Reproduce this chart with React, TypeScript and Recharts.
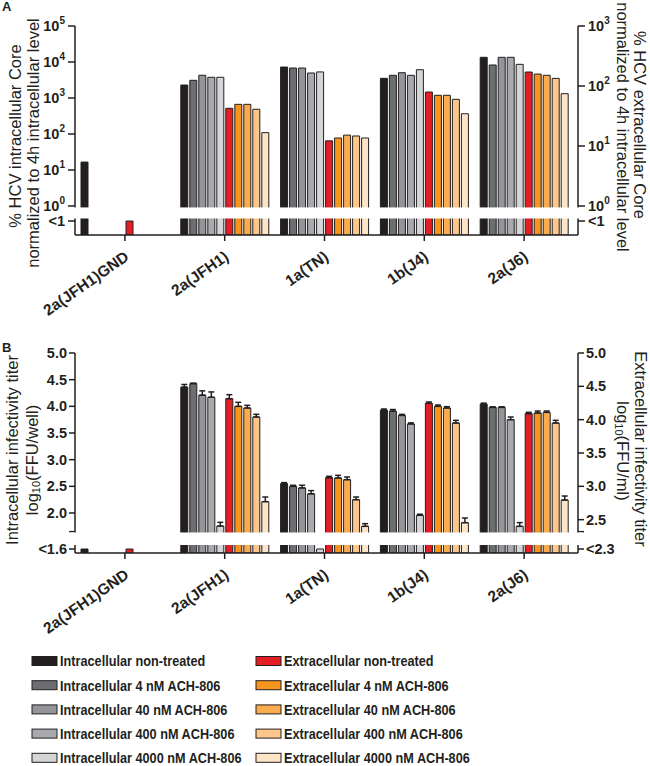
import React from 'react';
import { BarChart, Bar, XAxis, YAxis, ReferenceArea, ReferenceLine, ErrorBar } from 'recharts';

const FONT = '"Liberation Sans", Arial, Helvetica, sans-serif';
const INK = '#231f20';

const groups = ['2a(JFH1)GND', '2a(JFH1)', '1a(TN)', '1b(J4)', '2a(J6)'];

const intraNames = [
  'Intracellular non-treated',
  'Intracellular 4 nM ACH-806',
  'Intracellular 40 nM ACH-806',
  'Intracellular 400 nM ACH-806',
  'Intracellular 4000 nM ACH-806',
];
const extraNames = [
  'Extracellular non-treated',
  'Extracellular 4 nM ACH-806',
  'Extracellular 40 nM ACH-806',
  'Extracellular 400 nM ACH-806',
  'Extracellular 4000 nM ACH-806',
];
const intraColors = ['#231f20', '#6d6e71', '#939598', '#a8aaae', '#d4d5d7'];
const extraColors = ['#e31e25', '#f7941d', '#f9ab4e', '#fdc78c', '#fee4c6'];

// 'BLD' = below detection limit ("<1", "<1.6", "<2.3"); null = not measured
const BLD = 'BLD';
type V = number | string | null;

// Panel A: % HCV Core normalized to 4h intracellular level
const coreIntraNT: V[] = [16.6, 2290, 7240, 3520, 13500];
const coreIntra4: V[] = [null, 3100, 6800, 4270, 8260];
const coreIntra40: V[] = [null, 4280, 6800, 5040, 13500];
const coreIntra400: V[] = [null, 3760, 4950, 4270, 13500];
const coreIntra4000: V[] = [null, 3760, 5300, 6110, 8610];
const coreExtraNT: V[] = [BLD, 42.5, 12.2, 79.4, 171];
const coreExtra4: V[] = [null, 49.5, 13.6, 70, 158];
const coreExtra40: V[] = [null, 49.5, 15.2, 70, 151];
const coreExtra400: V[] = [null, 41, 14.7, 60, 134];
const coreExtra4000: V[] = [null, 16.7, 13.6, 34.5, 74.5];

// Panel B: infectivity titers, log10
const titerIntraNT: V[] = [BLD, 4.36, 2.55, 3.93, 4.04];
const titerIntra4: V[] = [null, 4.425, 2.5, 3.91, 3.98];
const titerIntra40: V[] = [null, 4.21, 2.47, 3.83, 3.98];
const titerIntra400: V[] = [null, 4.17, 2.36, 3.67, 3.75];
const titerIntra4000: V[] = [null, 1.755, BLD, 1.957, 1.75];
const titerExtraNT: V[] = [BLD, 4.315, 3.13, 4.245, 4.09];
const titerExtra4: V[] = [null, 4.2, 3.125, 4.2, 4.1];
const titerExtra40: V[] = [null, 4.175, 3.1, 4.175, 4.11];
const titerExtra400: V[] = [null, 4.04, 2.8, 3.95, 3.95];
const titerExtra4000: V[] = [null, 2.77, 2.4, 2.455, 2.795];

// SEM (upper whisker only)
const errIntraNT: (number | null)[] = [null, 0.05, 0.02, 0.02, 0.02];
const errIntra4: (number | null)[] = [null, 0.01, 0.02, 0.03, 0.01];
const errIntra40: (number | null)[] = [null, 0.08, 0.05, 0.02, 0.01];
const errIntra400: (number | null)[] = [null, 0.1, 0.06, 0.02, 0.05];
const errIntra4000: (number | null)[] = [null, 0.07, null, 0.02, 0.07];
const errExtraNT: (number | null)[] = [null, 0.06, 0.02, 0.02, 0.02];
const errExtra4: (number | null)[] = [null, 0.06, 0.04, 0.02, 0.03];
const errExtra40: (number | null)[] = [null, 0.04, 0.04, 0.02, 0.02];
const errExtra400: (number | null)[] = [null, 0.04, 0.04, 0.04, 0.04];
const errExtra4000: (number | null)[] = [null, 0.07, 0.04, 0.07, 0.06];

// Axis ticks
const aLeftTicks = [0, 1, 2, 3, 4, 5];
const aRightTicks = [0, 1, 2, 3];
const bLeftTicks = [2.0, 2.5, 3.0, 3.5, 4.0, 4.5, 5.0];
const bRightTicks = [2.5, 3.0, 3.5, 4.0, 4.5, 5.0];

// Broken-axis settings (axis units)
const A_L_DOMAIN: [number, number] = [-0.806, 5];
const A_L_LOD = -0.417;
const A_R_DOMAIN: [number, number] = [-0.483, 3];
const A_R_LOD = -0.25;
const A_BREAK: [number, number] = [-0.347, -0.04];

const B_L_DOMAIN: [number, number] = [1.25, 5];
const B_L_LOD = 1.325;
const B_L_SEGEND = 1.65;
const B_R_DOMAIN: [number, number] = [2.0, 5];
const B_R_LOD = 2.06;
const B_R_SEGEND = 2.32;
const B_BREAK: [number, number] = [1.4, 1.635];

const coreIntra = [coreIntraNT, coreIntra4, coreIntra40, coreIntra400, coreIntra4000];
const coreExtra = [coreExtraNT, coreExtra4, coreExtra40, coreExtra400, coreExtra4000];
const titerIntra = [titerIntraNT, titerIntra4, titerIntra40, titerIntra400, titerIntra4000];
const titerExtra = [titerExtraNT, titerExtra4, titerExtra40, titerExtra400, titerExtra4000];
const errIntra = [errIntraNT, errIntra4, errIntra40, errIntra400, errIntra4000];
const errExtra = [errExtraNT, errExtra4, errExtra40, errExtra400, errExtra4000];

const rowsA = groups.map((g, i) => {
  const r: any = { group: g };
  coreIntra.forEach((s, k) => (r['i' + k] = s[i]));
  coreExtra.forEach((s, k) => (r['e' + k] = s[i]));
  return r;
});
const rowsB = groups.map((g, i) => {
  const r: any = { group: g };
  titerIntra.forEach((s, k) => (r['i' + k] = s[i]));
  titerExtra.forEach((s, k) => (r['e' + k] = s[i]));
  errIntra.forEach((s, k) => (r['ie' + k] = s[i]));
  errExtra.forEach((s, k) => (r['ee' + k] = s[i]));
  return r;
});

const logVal = (v: V, min: number, lod: number) =>
  v == null ? null : v === BLD ? [min, lod] : [min, Math.log10(v as number)];
const linVal = (v: V, lod: number) => (v == null ? null : v === BLD ? lod : (v as number));
const errVal = (e: any) => (e == null ? null : [0, e]);

const tickFont = { fontFamily: FONT, fontWeight: 700, fontSize: 14.5, fill: INK } as const;

const makeLogTick = (anchor: 'start' | 'end', lod: number) => (p: any) => {
  const v = p.payload.value;
  if (v === lod)
    return (
      <text x={p.x} y={p.y} textAnchor={anchor} dominantBaseline="central" {...tickFont}>
        {'<1'}
      </text>
    );
  return (
    <text x={p.x} y={p.y} textAnchor={anchor} dominantBaseline="central" {...tickFont}>
      10
      <tspan dy={-6} fontSize={10}>
        {v}
      </tspan>
    </text>
  );
};

const makeLinTick = (anchor: 'start' | 'end', lod: number, lodLabel: string, hidden: number) => (p: any) => {
  const v = p.payload.value;
  if (v === hidden) return <g />;
  return (
    <text x={p.x} y={p.y} textAnchor={anchor} dominantBaseline="central" {...tickFont}>
      {v === lod ? lodLabel : Number(v).toFixed(1)}
    </text>
  );
};

// Slanted category names, drawn at the x-axis tick positions
const XTick = (p: any) => {
  const ax = p.x + 5;
  const ay = p.y + 16;
  return (
    <text
      x={ax}
      y={ay}
      textAnchor="end"
      fontFamily={FONT}
      fontWeight={700}
      fontSize={15.5}
      fill={INK}
      style={{
        transform: 'rotate(-35deg)',
        transformOrigin: `${ax}px ${ay}px`,
        transformBox: 'view-box',
      } as any}
    >
      {p.payload.value}
    </text>
  );
};

const BreakShape = (p: any) => (
  <rect x={p.x - 9} y={p.y} width={p.width + 18} height={p.height} fill="#ffffff" stroke="none" />
);

const axisStyle = { stroke: INK, strokeWidth: 1.5 };

function PanelA() {
  return (
    <BarChart
      width={650}
      height={330}
      data={rowsA}
      margin={{ top: 26, right: 0, bottom: 0, left: 0 }}
      barSize={7}
      barGap={2}
    >
      <XAxis
        dataKey="group"
        height={95}
        interval={0}
        tickSize={6}
        padding={{ left: 0, right: 4 }}
        axisLine={axisStyle}
        tickLine={axisStyle}
        tick={XTick}
      />
      <YAxis
        yAxisId="left"
        type="number"
        width={75}
        domain={A_L_DOMAIN}
        allowDataOverflow
        ticks={[A_L_LOD, ...aLeftTicks]}
        interval={0}
        tickSize={7}
        tickMargin={3}
        axisLine={axisStyle}
        tickLine={axisStyle}
        tick={makeLogTick('end', A_L_LOD)}
      />
      <YAxis
        yAxisId="right"
        orientation="right"
        type="number"
        width={72}
        domain={A_R_DOMAIN}
        allowDataOverflow
        ticks={[A_R_LOD, ...aRightTicks]}
        interval={0}
        tickSize={7}
        tickMargin={3}
        axisLine={axisStyle}
        tickLine={axisStyle}
        tick={makeLogTick('start', A_R_LOD)}
      />
      {coreIntra.map((_, k) => (
        <Bar
          key={'ai' + k}
          yAxisId="left"
          dataKey={(d: any) => logVal(d['i' + k], A_L_DOMAIN[0], A_L_LOD)}
          fill={intraColors[k]}
          stroke={INK}
          strokeWidth={1}
          isAnimationActive={false}
        />
      ))}
      {coreExtra.map((_, k) => (
        <Bar
          key={'ae' + k}
          yAxisId="right"
          dataKey={(d: any) => logVal(d['e' + k], A_R_DOMAIN[0], A_R_LOD)}
          fill={extraColors[k]}
          stroke={INK}
          strokeWidth={1}
          isAnimationActive={false}
        />
      ))}
      <ReferenceArea
        yAxisId="left"
        y1={A_BREAK[0]}
        y2={A_BREAK[1]}
        ifOverflow="visible"
        shape={BreakShape}
        {...({ zIndex: 1500 } as any)}
      />
    </BarChart>
  );
}

function PanelB() {
  return (
    <BarChart
      width={650}
      height={320}
      data={rowsB}
      margin={{ top: 23, right: 0, bottom: 0, left: 0 }}
      barSize={7}
      barGap={2}
    >
      <XAxis
        dataKey="group"
        height={97}
        interval={0}
        tickSize={6}
        padding={{ left: 0, right: 4 }}
        axisLine={axisStyle}
        tickLine={axisStyle}
        tick={XTick}
      />
      <YAxis
        yAxisId="left"
        type="number"
        width={75}
        domain={B_L_DOMAIN}
        allowDataOverflow
        ticks={[B_L_LOD, B_L_SEGEND, ...bLeftTicks]}
        interval={0}
        tickSize={6}
        tickMargin={2}
        axisLine={axisStyle}
        tickLine={axisStyle}
        tick={makeLinTick('end', B_L_LOD, '<1.6', B_L_SEGEND)}
      />
      <YAxis
        yAxisId="right"
        orientation="right"
        type="number"
        width={72}
        domain={B_R_DOMAIN}
        allowDataOverflow
        ticks={[B_R_LOD, B_R_SEGEND, ...bRightTicks]}
        interval={0}
        tickSize={6}
        tickMargin={2}
        axisLine={axisStyle}
        tickLine={axisStyle}
        tick={makeLinTick('start', B_R_LOD, '<2.3', B_R_SEGEND)}
      />
      {titerIntra.map((_, k) => (
        <Bar
          key={'bi' + k}
          yAxisId="left"
          dataKey={(d: any) => linVal(d['i' + k], B_L_LOD)}
          fill={intraColors[k]}
          stroke={INK}
          strokeWidth={1}
          isAnimationActive={false}
        >
          <ErrorBar dataKey={(d: any) => errVal(d['ie' + k])} width={3} stroke={INK} strokeWidth={1.5} />
        </Bar>
      ))}
      {titerExtra.map((_, k) => (
        <Bar
          key={'be' + k}
          yAxisId="right"
          dataKey={(d: any) => linVal(d['e' + k], B_R_LOD)}
          fill={extraColors[k]}
          stroke={INK}
          strokeWidth={1}
          isAnimationActive={false}
        >
          <ErrorBar dataKey={(d: any) => errVal(d['ee' + k])} width={3} stroke={INK} strokeWidth={1.5} />
        </Bar>
      ))}
      <ReferenceArea
        yAxisId="left"
        y1={B_BREAK[0]}
        y2={B_BREAK[1]}
        ifOverflow="visible"
        shape={BreakShape}
        {...({ zIndex: 1500 } as any)}
      />
    </BarChart>
  );
}

const titleFont = { fontFamily: FONT, fontSize: 16.5, fill: INK } as const;
const legendFont = { fontFamily: FONT, fontWeight: 700, fontSize: 15.5, fill: INK } as const;

function LegendItem({ x, y, name, color }: { x: number; y: number; name: string; color: string }) {
  return (
    <g>
      <rect x={x} y={y - 4.5} width={25} height={9} fill={color} stroke={INK} strokeWidth={1} />
      <g transform={`translate(${x + 28} ${y}) scale(0.82 1)`}>
        <text x={0} y={0} dominantBaseline="central" {...legendFont}>
          {name}
        </text>
      </g>
    </g>
  );
}

function Decorations() {
  return (
    <svg width={650} height={766} style={{ position: 'absolute', left: 0, top: 0 }}>
      <text x={2} y={11} fontFamily={FONT} fontWeight={700} fontSize={13} fill={INK}>A</text>
      <text x={2} y={352} fontFamily={FONT} fontWeight={700} fontSize={13} fill={INK}>B</text>

      <text transform="translate(15,136) rotate(-90)" textAnchor="middle" dominantBaseline="central" {...titleFont}>
        % HCV intracellular Core
      </text>
      <text transform="translate(33,143) rotate(-90)" textAnchor="middle" dominantBaseline="central" {...titleFont}>
        normalized to 4h intracellular level
      </text>
      <text transform="translate(640,125) rotate(90)" textAnchor="middle" dominantBaseline="central" {...titleFont}>
        % HCV extracellular Core
      </text>
      <text transform="translate(623,127) rotate(90)" textAnchor="middle" dominantBaseline="central" {...titleFont}>
        normalized to 4h intracellular level
      </text>

      <text transform="translate(12,450) rotate(-90)" textAnchor="middle" dominantBaseline="central" {...titleFont}>
        Intracellular infectivity titer
      </text>
      <text transform="translate(32,460) rotate(-90)" textAnchor="middle" dominantBaseline="central" {...titleFont}>
        log<tspan dy={4} fontSize={11}>10</tspan>
        <tspan dy={-4}>(FFU/well)</tspan>
      </text>
      <text transform="translate(641,449) rotate(90)" textAnchor="middle" dominantBaseline="central" {...titleFont}>
        Extracellular infectivity titer
      </text>
      <text transform="translate(623,451) rotate(90)" textAnchor="middle" dominantBaseline="central" {...titleFont}>
        log<tspan dy={4} fontSize={11}>10</tspan>
        <tspan dy={-4}>(FFU/ml)</tspan>
      </text>

      {intraNames.map((n, k) => (
        <LegendItem key={n} x={32} y={661 + k * 24.2} name={n} color={intraColors[k]} />
      ))}
      {extraNames.map((n, k) => (
        <LegendItem key={n} x={256} y={661 + k * 24.2} name={n} color={extraColors[k]} />
      ))}
    </svg>
  );
}

export default function App() {
  return (
    <div style={{ position: 'absolute', left: 0, top: 0, width: 650, height: 766, background: '#ffffff', overflow: 'hidden' }}>
      <Decorations />
      <div style={{ position: 'absolute', left: 0, top: 0 }}>
        <PanelA />
      </div>
      <div style={{ position: 'absolute', left: 0, top: 330 }}>
        <PanelB />
      </div>
    </div>
  );
}
